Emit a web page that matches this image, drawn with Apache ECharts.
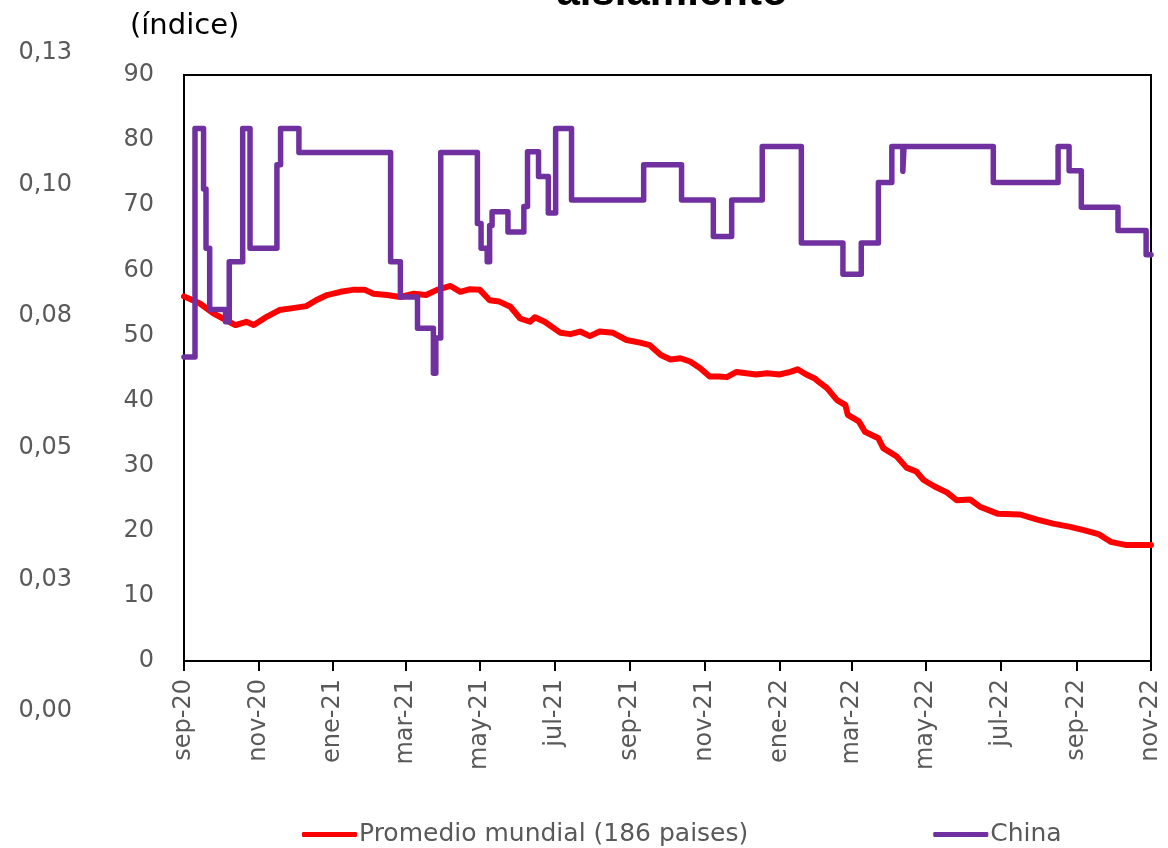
<!DOCTYPE html>
<html lang="es">

<head>
    <meta charset="UTF-8" />
    <script src="https://cdn.jsdelivr.net/npm/echarts@6/dist/echarts.min.js"></script>
    <title>aislamiento</title>
    <style>
        html, body { margin: 0; padding: 0; background: #fff; }
        #chart { width: 1168px; height: 848px; }
    </style>
</head>

<body>
    <div id="chart"></div>
    <script>
        // etiquetas del eje izquierdo exterior
        var outerTickLabels = ['0,00', '0,03', '0,05', '0,08', '0,10', '0,13'];
        var monthNames = ['ene', 'feb', 'mar', 'abr', 'may', 'jun', 'jul', 'ago', 'sep', 'oct', 'nov', 'dic'];

        // China: fecha en que cambia el indice y nuevo valor
        var chinaDates = [
            '2020-09-01', '2020-09-10', '2020-09-17', '2020-09-19', '2020-09-22', '2020-10-05', '2020-10-08',
            '2020-10-19', '2020-10-25', '2020-11-16', '2020-11-19', '2020-12-04', '2021-02-17', '2021-02-25',
            '2021-03-11', '2021-03-24', '2021-03-26', '2021-03-30', '2021-04-29', '2021-05-02', '2021-05-07',
            '2021-05-09', '2021-05-11', '2021-05-24', '2021-06-06', '2021-06-09', '2021-06-18', '2021-06-26',
            '2021-07-02', '2021-07-15', '2021-09-12', '2021-10-13', '2021-11-08', '2021-11-23', '2021-12-18',
            '2022-01-19', '2022-02-22', '2022-03-09', '2022-03-23', '2022-04-03', '2022-04-12', '2022-04-13',
            '2022-06-25', '2022-08-17', '2022-08-26', '2022-09-05', '2022-10-05', '2022-10-28', '2022-11-01'
        ];
        var chinaValues = [
            46.7, 81.8, 72.5, 63.4, 54.0, 52.1, 61.3,
            81.8, 63.4, 76.2, 81.8, 78.1, 61.3, 55.9,
            51.1, 44.2, 49.6, 78.1, 67.2, 63.4, 61.3,
            66.9, 69.0, 65.9, 69.8, 78.2, 74.4, 68.8,
            81.8, 70.8, 76.2, 70.8, 65.2, 70.8, 79.0,
            64.2, 59.4, 64.2, 73.5, 79.0, 75.2, 79.0,
            73.5, 79.0, 75.3, 69.7, 66.1, 62.4, 62.4
        ];

        // promedio mundial (186 paises)
        var worldDates = [
            '2020-09-01', '2020-09-14', '2020-09-25', '2020-10-03', '2020-10-13', '2020-10-22', '2020-10-28',
            '2020-11-08', '2020-11-18', '2020-11-29', '2020-12-10', '2020-12-18', '2020-12-27', '2021-01-07',
            '2021-01-17', '2021-01-27', '2021-02-03', '2021-02-14', '2021-02-25', '2021-03-08', '2021-03-18',
            '2021-03-27', '2021-04-07', '2021-04-15', '2021-04-23', '2021-05-01', '2021-05-09', '2021-05-17',
            '2021-05-26', '2021-06-03', '2021-06-11', '2021-06-15', '2021-06-23', '2021-07-06', '2021-07-14',
            '2021-07-22', '2021-07-30', '2021-08-07', '2021-08-18', '2021-08-29', '2021-09-09', '2021-09-17',
            '2021-09-26', '2021-10-04', '2021-10-12', '2021-10-20', '2021-10-28', '2021-11-05', '2021-11-13',
            '2021-11-19', '2021-11-27', '2021-12-05', '2021-12-13', '2021-12-22', '2022-01-01', '2022-01-10',
            '2022-01-16', '2022-01-23', '2022-01-30', '2022-02-02', '2022-02-09', '2022-02-17', '2022-02-24',
            '2022-02-26', '2022-03-07', '2022-03-12', '2022-03-23', '2022-03-27', '2022-04-07', '2022-04-15',
            '2022-04-23', '2022-04-29', '2022-05-08', '2022-05-18', '2022-05-26', '2022-06-06', '2022-06-14',
            '2022-06-29', '2022-07-17', '2022-07-31', '2022-08-13', '2022-08-27', '2022-09-07', '2022-09-19',
            '2022-09-29', '2022-10-12', '2022-11-01'
        ];
        var worldValues = [
            56.0, 54.9, 53.4, 52.6, 51.6, 52.1, 51.6,
            52.9, 53.9, 54.2, 54.5, 55.4, 56.2, 56.7,
            57.0, 57.0, 56.4, 56.2, 55.9, 56.4, 56.2,
            57.0, 57.6, 56.7, 57.1, 57.0, 55.4, 55.2,
            54.4, 52.6, 52.1, 52.8, 52.1, 50.4, 50.2,
            50.6, 49.9, 50.6, 50.4, 49.3, 48.9, 48.5,
            47.0, 46.3, 46.5, 46.0, 45.0, 43.7, 43.7,
            43.6, 44.4, 44.2, 44.0, 44.2, 44.0, 44.4,
            44.8, 44.0, 43.4, 42.9, 41.9, 40.1, 39.3,
            37.8, 36.8, 35.2, 34.2, 32.7, 31.4, 29.7,
            29.1, 27.8, 26.8, 25.9, 24.7, 24.8, 23.7,
            22.6, 22.5, 21.7, 21.1, 20.6, 20.1, 19.5,
            18.3, 17.8, 17.8
        ];

        // dias del eje (categorias diarias)
        var categories = [];
        for (var d = new Date(Date.UTC(2020, 8, 1)); d <= new Date(Date.UTC(2022, 10, 1)); d.setUTCDate(d.getUTCDate() + 1)) {
            categories.push(d.toISOString().slice(0, 10));
        }

        function zip(xs, ys) {
            return xs.map(function (x, i) { return [x, ys[i]]; });
        }

        // marca cada dos meses: sep, nov, ene, mar, may, jul
        function isTick(idx, val) {
            return val.slice(8) === '01' && (+val.slice(5, 7)) % 2 === 1;
        }

        var gray = '#595959';
        var font = 'DejaVu Sans';

        var myChart = echarts.init(document.getElementById('chart'), null, { renderer: 'canvas' });
        var option = {
            animation: false,
            backgroundColor: '#fff',
            graphic: [
                {
                    type: 'text', left: 130, top: 12,
                    style: { text: '(índice)', fill: '#000', font: '29px "DejaVu Sans"' }
                },
                {
                    type: 'text', x: 672, y: -28,
                    style: { text: 'aislamiento', fill: '#000', font: 'bold 42px "Liberation Sans"', align: 'center', verticalAlign: 'top' }
                }
            ],
            legend: {
                left: 297, top: 817,
                itemGap: 185, itemWidth: 55, itemHeight: 5,
                icon: 'roundRect',
                textStyle: { color: gray, fontSize: 25, fontFamily: font, padding: [0, 0, 0, -3] },
                data: ['Promedio mundial (186 paises)', 'China']
            },
            grid: [
                { left: 184, right: 17, top: 75, bottom: 187, show: true, borderColor: '#000', borderWidth: 2 },
                { left: 80, width: 10, top: 53, bottom: 137 }
            ],
            xAxis: [
                {
                    type: 'category', gridIndex: 0, data: categories, boundaryGap: false,
                    axisLine: { lineStyle: { color: '#000', width: 2 } },
                    axisTick: { show: true, interval: isTick, length: 10, lineStyle: { color: '#000', width: 2 } },
                    axisLabel: {
                        interval: isTick, rotate: 90, margin: 18,
                        color: gray, fontSize: 24, fontFamily: font,
                        formatter: function (val) {
                            return monthNames[+val.slice(5, 7) - 1] + '-' + val.slice(2, 4);
                        }
                    },
                    splitLine: { show: false }
                },
                { type: 'value', gridIndex: 1, show: false, min: 0, max: 1 }
            ],
            yAxis: [
                {
                    type: 'value', gridIndex: 0, min: 0, max: 90, interval: 10,
                    axisLine: { show: true, lineStyle: { color: '#000', width: 2 } },
                    axisTick: { show: false },
                    splitLine: { show: false },
                    axisLabel: { color: gray, fontSize: 24, fontFamily: font, margin: 30, padding: [5, 0, 0, 0] }
                },
                {
                    type: 'value', gridIndex: 1, min: 0, max: 0.125, interval: 0.025,
                    axisLine: { show: false }, axisTick: { show: false }, splitLine: { show: false },
                    axisLabel: {
                        color: gray, fontSize: 24, fontFamily: font, margin: 8, padding: [5, 0, 0, 0],
                        formatter: function (v) { return outerTickLabels[Math.round(v / 0.025)]; }
                    }
                }
            ],
            series: [
                {
                    name: 'Promedio mundial (186 paises)', type: 'line',
                    xAxisIndex: 0, yAxisIndex: 0,
                    data: zip(worldDates, worldValues),
                    symbol: 'none', color: '#FF0000',
                    lineStyle: { width: 6, color: '#FF0000', cap: 'round', join: 'round' }
                },
                {
                    name: 'China', type: 'line', step: 'end',
                    xAxisIndex: 0, yAxisIndex: 0,
                    data: zip(chinaDates, chinaValues),
                    symbol: 'none', color: '#7030A0',
                    lineStyle: { width: 5.5, color: '#7030A0', cap: 'round', join: 'round' }
                }
            ]
        };
        myChart.setOption(option);
    </script>
</body>

</html>
